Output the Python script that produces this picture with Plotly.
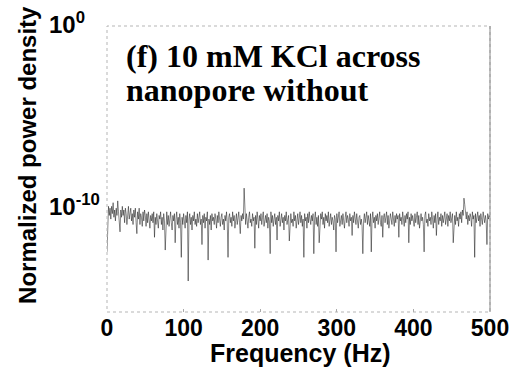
import numpy as np
import plotly.graph_objects as go

# Normalized power spectral density, one value per 1 Hz bin (0..500 Hz),
# stored as log10 of the density
psd_log10 = [
    # 0-19 Hz
    -12.4, -10.3, -9.9, -10.4, -10.0, -10.6, -9.9, -10.3, -9.7, -10.5,
    -10.1, -10.7, -10.0, -10.4, -9.6, -10.2, -10.8, -11.3, -10.1, -10.5,
    # 20-39 Hz
    -9.9, -10.4, -10.1, -10.8, -10.0, -10.3, -10.9, -10.2, -9.9, -10.6,
    -10.2, -10.0, -10.7, -10.3, -10.9, -10.1, -10.5, -10.0, -10.8, -11.4,
    # 40-59 Hz
    -10.2, -10.6, -10.0, -10.9, -10.3, -10.5, -11.0, -10.2, -10.7, -10.1,
    -10.4, -11.0, -10.3, -10.8, -10.2, -10.6, -11.1, -10.4, -10.7, -10.3,
    # 60-79 Hz
    -10.8, -10.2, -11.6, -10.5, -10.9, -10.3, -10.7, -11.1, -10.4, -10.6,
    -10.2, -10.9, -10.5, -11.2, -10.3, -10.7, -12.3, -10.6, -10.2, -10.9,
    # 80-99 Hz
    -10.4, -11.0, -10.6, -10.2, -10.8, -11.2, -10.4, -10.7, -10.3, -11.9,
    -10.6, -10.2, -10.9, -10.5, -11.1, -10.3, -10.8, -12.7, -10.5, -10.9,
    # 100-119 Hz
    -10.3, -10.7, -11.1, -10.4, -10.8, -10.2, -14.0, -10.6, -10.3, -10.9,
    -10.5, -11.2, -10.4, -10.7, -10.2, -10.9, -10.6, -11.0, -10.3, -10.8,
    # 120-139 Hz
    -10.5, -10.2, -10.9, -10.6, -12.0, -10.4, -10.8, -10.3, -11.1, -10.5,
    -10.7, -10.2, -12.85, -10.6, -10.9, -10.4, -11.2, -10.3, -10.7, -10.5,
    # 140-159 Hz
    -10.9, -10.3, -10.6, -11.1, -10.4, -10.8, -10.2, -10.7, -11.0, -10.5,
    -10.3, -10.9, -10.6, -11.2, -10.4, -10.7, -10.2, -10.8, -12.7, -10.5,
    # 160-179 Hz
    -10.3, -10.8, -10.5, -11.0, -10.2, -10.7, -10.4, -11.1, -10.6, -10.3,
    -10.9, -10.5, -10.2, -10.8, -11.4, -10.4, -10.7, -10.3, -10.6, -8.9,
    # 180-199 Hz
    -10.4, -10.9, -10.3, -10.7, -11.1, -10.5, -10.2, -10.8, -10.6, -11.0,
    -10.3, -10.7, -10.5, -12.2, -10.4, -10.9, -10.2, -10.6, -11.1, -10.4,
    # 200-219 Hz
    -10.7, -10.3, -10.9, -10.5, -10.2, -11.0, -10.6, -10.4, -10.8, -10.3,
    -11.1, -10.5, -10.7, -12.5, -10.2, -10.8, -10.4, -11.0, -10.6, -10.3,
    # 220-239 Hz
    -10.9, -10.5, -11.75, -10.4, -10.7, -10.2, -11.0, -10.6, -10.3, -10.8,
    -10.5, -11.2, -10.4, -10.7, -10.2, -10.9, -10.6, -10.4, -11.8, -10.5,
    # 240-259 Hz
    -10.3, -10.8, -10.6, -11.0, -10.2, -10.7, -10.4, -11.1, -10.5, -10.3,
    -10.9, -10.6, -10.2, -10.8, -10.4, -11.0, -10.6, -12.7, -10.3, -10.7,
    # 260-279 Hz
    -10.5, -11.1, -10.3, -10.8, -10.2, -10.6, -10.9, -10.4, -10.7, -10.3,
    -12.5, -10.6, -10.2, -10.9, -10.5, -11.0, -10.4, -11.9, -10.7, -10.3,
    # 280-299 Hz
    -10.6, -10.2, -10.9, -10.5, -11.1, -10.3, -10.7, -10.4, -10.8, -10.2,
    -11.0, -10.6, -10.3, -10.9, -10.5, -10.7, -11.2, -10.4, -10.6, -12.4,
    # 300-319 Hz
    -10.3, -10.8, -10.5, -10.2, -11.0, -10.6, -10.4, -10.9, -10.3, -10.7,
    -11.1, -10.5, -10.2, -10.8, -10.4, -10.6, -11.0, -10.3, -10.7, -10.5,
    # 320-339 Hz
    -11.5, -10.4, -10.8, -10.2, -10.6, -10.9, -10.3, -10.7, -11.1, -10.5,
    -10.4, -10.9, -10.6, -11.0, -12.5, -10.7, -10.3, -10.8, -10.5, -10.2,
    # 340-359 Hz
    -10.9, -10.4, -10.7, -11.0, -10.3, -12.4, -10.6, -10.2, -10.8, -10.5,
    -11.1, -10.4, -10.7, -10.3, -10.9, -10.6, -10.2, -10.8, -11.0, -10.4,
    # 360-379 Hz
    -11.6, -10.5, -10.3, -10.8, -10.6, -10.2, -10.9, -10.4, -11.1, -10.7,
    -10.3, -10.6, -10.9, -10.2, -10.5, -11.0, -10.4, -10.8, -10.3, -10.6,
    # 380-399 Hz
    -10.4, -11.6, -10.3, -10.7, -10.5, -10.9, -10.2, -10.6, -11.0, -10.4,
    -10.8, -10.3, -10.6, -10.2, -11.9, -10.5, -10.9, -10.3, -10.7, -10.4,
    # 400-419 Hz
    -10.6, -11.0, -10.3, -10.8, -10.5, -10.2, -10.9, -10.4, -11.1, -10.6,
    -10.3, -10.7, -10.5, -10.9, -12.4, -10.4, -10.2, -10.8, -10.6, -11.0,
    # 420-439 Hz
    -10.3, -10.7, -10.5, -10.9, -10.2, -10.6, -11.1, -10.4, -10.8, -10.3,
    -11.5, -10.6, -10.2, -10.9, -10.5, -10.7, -10.3, -11.0, -10.4, -10.8,
    # 440-459 Hz
    -10.5, -10.2, -10.9, -10.6, -10.3, -11.0, -10.4, -10.7, -10.2, -10.8,
    -10.5, -10.3, -11.9, -10.6, -10.4, -10.9, -10.2, -10.7, -10.5, -11.0,
    # 460-479 Hz
    -10.3, -10.6, -10.2, -10.8, -10.1, -10.4, -9.45, -9.8, -10.3, -10.6,
    -10.2, -10.9, -10.4, -10.7, -10.3, -10.5, -11.0, -10.2, -10.6, -10.4,
    # 480-499 Hz
    -12.7, -10.3, -10.8, -10.5, -10.2, -10.7, -10.4, -11.0, -10.3, -10.6,
    -10.9, -10.2, -10.5, -10.8, -10.4, -10.7, -12.0, -10.3, -10.6, -10.4,
    # 500 Hz
    -10.5,
]
freq_hz = list(range(len(psd_log10)))
psd = np.power(10.0, np.array(psd_log10))

x_ticks = [0, 100, 200, 300, 400, 500]
y_tickvals = [1e0, 1e-10]
y_ticktext = ["10<sup>0</sup>", "10<sup>-10</sup>"]

SANS = "Liberation Sans, Arial, sans-serif"
SERIF = "Liberation Serif, Times New Roman, serif"

Y_MIN_LOG, Y_MAX_LOG = -15.7, 0.0

fig = go.Figure()
fig.add_trace(go.Scatter(
    x=freq_hz, y=psd, mode="lines",
    line=dict(color="rgba(10,10,10,0.65)", width=0.75),
    showlegend=False,
))

fig.update_layout(
    width=521, height=375,
    margin=dict(l=107, r=31, t=26, b=63),
    paper_bgcolor="white", plot_bgcolor="white",
    font=dict(family=SANS, size=21, color="black"),
)
fig.update_xaxes(
    range=[0, 500], tickvals=x_ticks,
    tickfont=dict(family=SANS, size=23, color="black", weight="bold"),
    ticks="inside", ticklen=3, tickcolor="#aaa",
    showgrid=False, zeroline=False, showline=False,
)
fig.update_yaxes(
    type="log", range=[Y_MIN_LOG, Y_MAX_LOG],
    tickvals=y_tickvals, showticklabels=False,
    ticks="", showgrid=False, zeroline=False, showline=False,
)

# Decade labels on the log axis, placed as text beside their decades
y_label_right_px = [87, 102]
for val, txt, xr in zip(y_tickvals, y_ticktext, y_label_right_px):
    frac = (np.log10(val) - Y_MIN_LOG) / (Y_MAX_LOG - Y_MIN_LOG)
    fig.add_annotation(text=txt, xref="paper", yref="paper",
                       x=(xr - 107) / 383, y=frac + 0.01,
                       xanchor="right", yanchor="middle", showarrow=False,
                       font=dict(family=SANS, size=24, color="black", weight="bold"))

# Light dotted frame with a darker right edge
fig.add_shape(type="rect", xref="paper", yref="paper", x0=0, x1=1, y0=0, y1=1,
              line=dict(color="#b5b5b5", width=1, dash="dot"))
fig.add_shape(type="line", xref="paper", yref="paper", x0=1, x1=1, y0=0, y1=1,
              line=dict(color="#888", width=1))

# Axis titles
fig.add_annotation(text="Frequency (Hz)", xref="paper", yref="paper",
                   x=0.505, y=-0.145, xanchor="center", yanchor="middle",
                   showarrow=False,
                   font=dict(family=SANS, size=25, color="black", weight="bold"))
fig.add_annotation(text="Normalized power density", xref="paper", yref="paper",
                   x=-0.209, y=(312 - 155) / 286, xanchor="center", yanchor="middle",
                   textangle=-90, showarrow=False,
                   font=dict(family=SANS, size=24, color="black", weight="bold"))

# Panel caption
fig.add_annotation(text="(f) 10 mM KCl across", xref="paper", yref="paper",
                   x=0.045, y=(312 - 56) / 286, xanchor="left", yanchor="middle",
                   showarrow=False,
                   font=dict(family=SERIF, size=32, color="black", weight="bold"))
fig.add_annotation(text="nanopore without", xref="paper", yref="paper",
                   x=0.045, y=(312 - 90) / 286, xanchor="left", yanchor="middle",
                   showarrow=False,
                   font=dict(family=SERIF, size=32, color="black", weight="bold"))

fig.write_html("out.html")
